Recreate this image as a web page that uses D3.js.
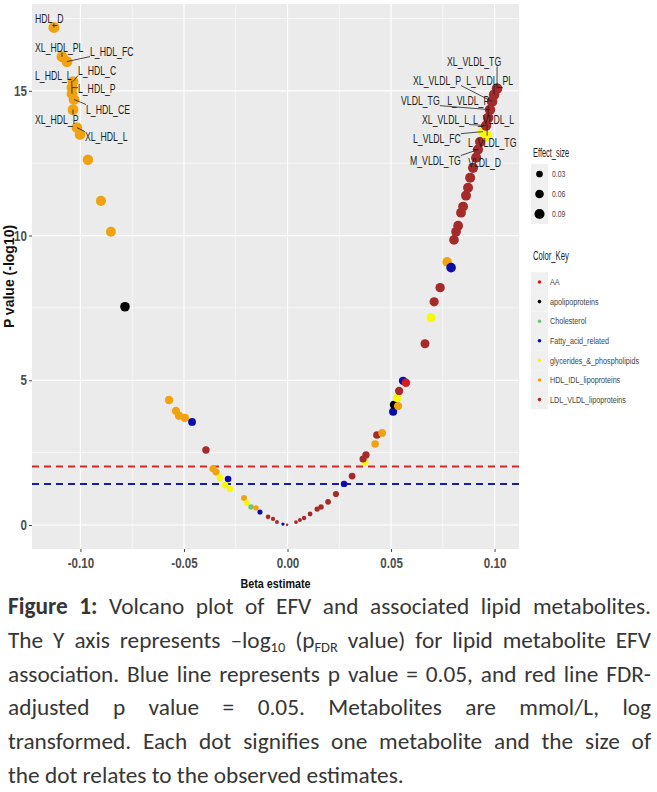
<!DOCTYPE html>
<html><head><meta charset="utf-8">
<script src="https://cdn.jsdelivr.net/npm/d3@7/dist/d3.min.js"></script>
<style>
body{margin:0;background:#fff;width:657px;height:792px;overflow:hidden;position:relative;}
#cap{position:absolute;left:8px;top:590px;width:643px;font-family:Carlito,Lato,"Open Sans",sans-serif;font-size:23.3px;color:#363636;}
.ln{height:33.8px;line-height:33.8px;text-align:justify;text-align-last:justify;white-space:nowrap;}
.ln.last{text-align-last:left;}
sub{font-size:0.62em;line-height:0;vertical-align:-0.3em;}
</style></head>
<body>
<script>
// ---------- data ----------
const groups = ["AA","apolipoproteins","Cholesterol","Fatty_acid_related","glycerides_&_phospholipids","HDL_IDL_lipoproteins","LDL_VLDL_lipoproteins"];
const groupColors = ["#d41c1c","#000000","#74c476","#0b0ba8","#f8f80c","#f1a20f","#a52a2a"];

// beta estimate, -log10 p, group index (into groups)
const beta = [
 -0.1128,-0.1089,-0.1065,-0.1036,-0.1041,-0.1041,-0.1031,-0.1036,-0.1017,-0.1002,
 -0.0964,-0.0901,-0.0853,-0.0785,-0.0572,-0.0539,-0.0524,-0.0495,-0.0461,-0.0394,
 -0.0360,-0.0345,-0.0326,-0.0287,-0.0302,-0.0278,-0.0210,-0.0196,-0.0176,-0.0152,
 -0.0133,-0.0094,-0.0070,-0.0051,-0.0022,-0.0002,
 0.0041,0.0060,0.0080,0.0109,0.0143,0.0162,0.0196,0.0234,0.0273,0.0312,
 0.0374,0.0365,0.0379,0.0423,0.0432,0.0457,0.0510,0.0514,0.0534,0.0529,
 0.0539,0.0558,0.0572,0.0664,0.0693,0.0708,0.0737,0.0771,0.0790,0.0804,
 0.0814,0.0824,0.0838,0.0848,0.0862,0.0872,0.0882,0.0896,0.0911,0.0920,
 0.0930,0.0944,0.0964,0.0959,0.0969,0.0978,0.0988,0.0998,0.1012
];
const logp = [
 17.19,16.18,16.01,15.32,15.11,14.90,14.70,14.35,13.73,13.49,
 12.62,11.20,10.13,7.54,4.32,3.94,3.77,3.70,3.56,2.59,
 1.94,1.83,1.63,1.59,1.38,1.24,0.93,0.76,0.62,0.59,
 0.45,0.28,0.21,0.10,0.03,0.01,
 0.10,0.17,0.24,0.38,0.55,0.62,0.80,1.07,1.42,1.69,
 2.18,2.28,2.42,2.80,3.11,3.18,3.91,4.15,4.11,4.39,
 4.63,4.98,4.91,6.26,7.16,7.71,8.20,9.09,8.89,9.85,
 10.13,10.34,10.79,11.00,11.38,11.65,12.00,12.34,12.69,12.97,
 13.24,13.59,13.45,13.80,14.07,14.35,14.63,14.87,15.08
];
const grp = [
 5,5,5,5,5,5,5,5,5,5,
 5,5,5,1,5,5,5,5,3,6,
 5,5,4,3,4,4,5,4,2,5,
 3,6,6,6,3,6,
 6,6,6,6,6,6,6,6,3,6,
 4,6,6,5,6,5,3,1,5,4,
 6,3,0,6,4,6,6,5,3,6,
 6,6,6,6,6,6,6,6,6,6,
 6,4,4,6,6,6,6,6,6
];

// labelled metabolites: name and index of the point
const labelNames = ["HDL_D","XL_HDL_PL","L_HDL_FC","L_HDL_C","L_HDL_L","L_HDL_P","L_HDL_CE","XL_HDL_P","XL_HDL_L",
  "XL_VLDL_TG","XL_VLDL_P","L_VLDL_PL","VLDL_TG","L_VLDL_P","XL_VLDL_L","L_VLDL_L","L_VLDL_FC","L_VLDL_TG","M_VLDL_TG","VLDL_D"];
const labelPoint = [0,1,2,3,5,4,6,7,8, 84,82,83,81,80,79,78,77,76,75,74];
// label placement (layout only): text left / vertical centre offset in px from the point
const labelOffset = [[-19,-9],[-27,-9],[23,-10],[5,-11],[-37,-18],[6,1],[12,10],[-38,10],[8,9],
  [-50,-27],[-79,-21],[-28,-14],[-89,-9],[-41,-17],[-64,-6],[-14,-16],[-70,7],[-12,1],[-68,11],[-8,5]];

const xTicks = [-0.10,-0.05,0.00,0.05,0.10];
const xTickLabels = ["-0.10","-0.05","0.00","0.05","0.10"];
const yTicks = [0,5,10,15];
const thresholds = [2.02, 1.42];   // red: FDR, blue: p = 0.05
const thresholdColors = ["#cf2a2a","#1d1d9c"];
const sizeBreaks = [0.03,0.06,0.09];

// ---------- layout ----------
const W=657,H=792;
const P={l:32,r:519,t:4,b:549};
const x=d3.scaleLinear().domain([-0.1234,0.1118]).range([P.l,P.r]);
const y=d3.scaleLinear().domain([-0.83,18.0]).range([P.b,P.t]);
const r=d3.scaleSqrt().domain([0,0.115]).range([1,5.6]);
const col=d3.scaleOrdinal().domain(groups).range(groupColors);
const FONT='"Liberation Sans",Arial,sans-serif';
// emulate a condensed face: squeeze glyphs horizontally about the text's own anchor x
function condense(sel,f){
  sel.each(function(){
    const ax=+(this.getAttribute("x")||0);
    this.setAttribute("transform",`translate(${ax*(1-f)},0) scale(${f},1)`);
  });
}

const svg=d3.select("body").append("svg").attr("width",W).attr("height",H)
  .style("position","absolute").style("left","0").style("top","0");

svg.append("rect").attr("x",P.l).attr("y",P.t).attr("width",P.r-P.l).attr("height",P.b-P.t).attr("fill","#ebebeb");

const grid=svg.append("g");
const xMinor=[-0.075,-0.025,0.025,0.075], yMinor=[2.5,7.5,12.5,17.5];
grid.selectAll(".xm").data(xMinor).join("line").attr("x1",d=>x(d)).attr("x2",d=>x(d)).attr("y1",P.t).attr("y2",P.b).attr("stroke","#fff").attr("stroke-width",0.6);
grid.selectAll(".ym").data(yMinor).join("line").attr("y1",d=>y(d)).attr("y2",d=>y(d)).attr("x1",P.l).attr("x2",P.r).attr("stroke","#fff").attr("stroke-width",0.6);
grid.selectAll(".xM").data(xTicks).join("line").attr("x1",d=>x(d)).attr("x2",d=>x(d)).attr("y1",P.t).attr("y2",P.b).attr("stroke","#fff").attr("stroke-width",1.2);
grid.selectAll(".yM").data(yTicks).join("line").attr("y1",d=>y(d)).attr("y2",d=>y(d)).attr("x1",P.l).attr("x2",P.r).attr("stroke","#fff").attr("stroke-width",1.2);

// threshold lines
svg.selectAll(".thr").data(thresholds).join("line")
  .attr("x1",P.l).attr("x2",P.r).attr("y1",d=>y(d)).attr("y2",d=>y(d))
  .attr("stroke",(d,i)=>thresholdColors[i]).attr("stroke-width",2).attr("stroke-dasharray","7,5");

// points
const pts=beta.map((b,i)=>({b,p:logp[i],g:groups[grp[i]]}));
svg.append("g").selectAll("circle").data(pts).join("circle")
  .attr("cx",d=>x(d.b)).attr("cy",d=>y(d.p)).attr("r",d=>r(Math.abs(d.b)))
  .attr("fill",d=>col(d.g));

// labels with segments
const LF=0.67;
const lg=svg.append("g").attr("font-family",FONT).attr("font-size",13).attr("fill","#1e1e1e");
labelNames.forEach((name,k)=>{
  const d=pts[labelPoint[k]];
  const px=x(d.b), py=y(d.p);
  const tx=px+labelOffset[k][0], ty=py+labelOffset[k][1];
  const t=lg.append("text").attr("x",tx).attr("y",ty).attr("dy","0.35em").text(name);
  const w=t.node().getComputedTextLength()*LF;
  condense(t,LF);
  const bx0=tx, bx1=tx+w, by0=ty-5, by1=ty+5;
  const cx=Math.max(bx0,Math.min(bx1,px));
  const cy=Math.max(by0,Math.min(by1,py));
  if(Math.hypot(cx-px,cy-py)>3){
    lg.insert("line","text").attr("x1",cx).attr("y1",cy).attr("x2",px).attr("y2",py)
      .attr("stroke","#1e1e1e").attr("stroke-width",0.8);
  }
});

// axes
const ax=svg.append("g").attr("transform",`translate(0,${P.b})`)
  .call(d3.axisBottom(x).tickValues(xTicks).tickFormat((d,i)=>xTickLabels[i]).tickSize(3).tickPadding(6));
const ay=svg.append("g").attr("transform",`translate(${P.l},0)`)
  .call(d3.axisLeft(y).tickValues(yTicks).tickSize(3).tickPadding(2));
[ax,ay].forEach(a=>{
  a.select(".domain").remove();
  a.selectAll(".tick line").attr("stroke","#444");
  a.selectAll(".tick text").attr("fill","#4d4d4d").attr("font-family",FONT).attr("font-size",14.5).attr("font-weight","bold");
  condense(a.selectAll(".tick text"),0.8);
});

const xt=svg.append("text").attr("x",(P.l+P.r)/2).attr("y",583).attr("dy","0.35em").attr("text-anchor","middle")
  .attr("font-family",FONT).attr("font-weight","bold").attr("font-size",13.5).attr("fill","#111").text("Beta estimate");
condense(xt,0.8);
svg.append("text").attr("transform",`translate(9,${(P.t+P.b)/2}) rotate(-90)`).attr("dy","0.35em").attr("text-anchor","middle")
  .attr("font-family",FONT).attr("font-weight","bold").attr("font-size",14).attr("fill","#111").text("P value (-log10)");

// legend: Effect_size
const leg=svg.append("g").attr("font-family",FONT);
const t1=leg.append("text").attr("x",533).attr("y",153).attr("dy","0.35em").attr("font-size",12).attr("fill","#222").text("Effect_size");
condense(t1,0.62);
sizeBreaks.forEach((s,i)=>{
  const cy=174+i*20;
  leg.append("rect").attr("x",531).attr("y",cy-10).attr("width",17).attr("height",20).attr("fill","#f0f0f0");
  leg.append("circle").attr("cx",539.5).attr("cy",cy).attr("r",r(s)).attr("fill","#000");
  const tt=leg.append("text").attr("x",552).attr("y",cy).attr("dy","0.35em").attr("font-size",9.5).attr("fill","#444").text(s.toFixed(2));
  condense(tt,0.72);
});
// legend: Color_Key
const t2=leg.append("text").attr("x",533).attr("y",256).attr("dy","0.35em").attr("font-size",12).attr("fill","#222").text("Color_Key");
condense(t2,0.64);
groups.forEach((g,i)=>{
  const cy=282+i*19.6;
  leg.append("rect").attr("x",531).attr("y",cy-9.8).attr("width",17).attr("height",19.6).attr("fill","#f0f0f0");
  leg.append("circle").attr("cx",539.5).attr("cy",cy).attr("r",1.8).attr("fill",groupColors[i]);
  const tt=leg.append("text").attr("x",550).attr("y",cy).attr("dy","0.35em").attr("font-size",9).attr("fill","#444").text(g);
  condense(tt,0.8);
});

// caption
const capLines = [
  '<b>Figure 1:</b> Volcano plot of EFV and associated lipid metabolites.',
  'The Y axis represents –log<sub>10</sub> (p<sub>FDR</sub> value) for lipid metabolite EFV',
  'association. Blue line represents p value = 0.05, and red line FDR-',
  'adjusted p value = 0.05. Metabolites are mmol/L, log',
  'transformed. Each dot signifies one metabolite and the size of',
  'the dot relates to the observed estimates.'
];
d3.select("body").append("div").attr("id","cap").selectAll("div").data(capLines).join("div")
  .attr("class",(d,i)=>i===capLines.length-1?"ln last":"ln").html(d=>d);
</script>
</body></html>
